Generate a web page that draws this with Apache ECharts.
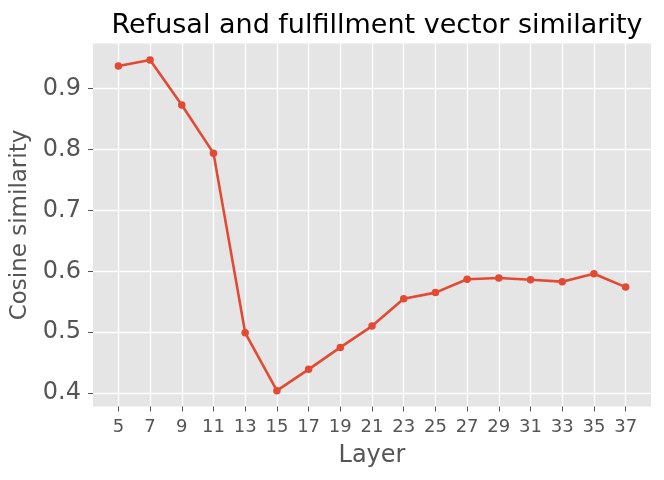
<!DOCTYPE html>
<html>
<head>
<meta charset="utf-8">
<script src="https://cdn.jsdelivr.net/npm/echarts@6/dist/echarts.min.js"></script>
<style>
  html, body { margin: 0; padding: 0; background: #fff; }
  #chart { width: 664px; height: 480px; }
</style>
</head>
<body>
<div id="chart"></div>
<script>
// layers on the x axis and the similarity
var layers = [5, 7, 9, 11, 13, 15, 17, 19, 21, 23, 25, 27, 29, 31, 33, 35, 37];
var similarity = [0.937, 0.947, 0.873, 0.794, 0.499, 0.404, 0.439, 0.475, 0.510,
                  0.555, 0.565, 0.587, 0.589, 0.586, 0.583, 0.596, 0.574];
var yTicks = [0.4, 0.5, 0.6, 0.7, 0.8, 0.9];

var chart = echarts.init(document.getElementById('chart'));
var font = 'DejaVu Sans';

var points = [];
for (var i = 0; i < layers.length; i++) {
    points.push([layers[i], similarity[i]]);
}

var option = {
    animation: false,
    title: {
        text: 'Refusal and fulfillment vector similarity',
        left: 372,
        top: 7,
        textAlign: 'center',
        textStyle: { fontFamily: font, fontSize: 27, fontWeight: 'normal', color: '#000' }
    },
    grid: {
        left: 93, right: 13, top: 43.5, bottom: 73.5,
        show: true, backgroundColor: '#E5E5E5', borderWidth: 0
    },
    xAxis: {
        type: 'value',
        min: 3.4,
        max: 38.6,
        name: 'Layer',
        nameLocation: 'middle',
        nameGap: 37,
        nameTextStyle: { fontFamily: font, fontSize: 24, color: '#555' },
        axisLine: { show: false },
        axisTick: { show: true, length: 5, lineStyle: { color: '#555', width: 1 }, customValues: layers },
        axisLabel: { fontFamily: font, fontSize: 18, color: '#555', margin: 12, customValues: layers },
        splitLine: { show: true, lineStyle: { color: '#fff', width: 1.3 } }
    },
    yAxis: {
        type: 'value',
        min: 0.378,
        max: 0.974,
        name: 'Cosine similarity',
        nameLocation: 'middle',
        nameGap: 54,
        nameTextStyle: { fontFamily: font, fontSize: 23, color: '#555' },
        axisLine: { show: false },
        axisTick: { show: true, length: 5, lineStyle: { color: '#555', width: 1 }, customValues: yTicks },
        axisLabel: {
            fontFamily: font, fontSize: 24, color: '#555', margin: 12, customValues: yTicks,
            formatter: function (v) { return v.toFixed(1); }
        },
        splitLine: { show: true, lineStyle: { color: '#fff', width: 1.3 } }
    },
    series: [{
        type: 'line',
        data: points,
        symbol: 'circle',
        symbolSize: 7.5,
        lineStyle: { color: '#E24A33', width: 2.6 },
        itemStyle: { color: '#E24A33' }
    }]
};

chart.setOption(option);
</script>
</body>
</html>
